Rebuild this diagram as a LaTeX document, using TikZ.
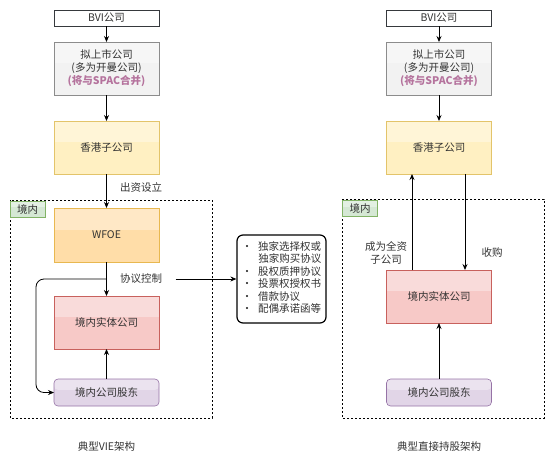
\documentclass[tikz,border=0pt]{standalone}
\usepackage{fontspec}
\setmainfont{Noto Sans CJK SC}
\usetikzlibrary{positioning,calc,arrows.meta}

\definecolor{txtgray}{HTML}{333333}
\definecolor{bviline}{HTML}{36393D}
\definecolor{grayfill}{HTML}{F2F2F2}
\definecolor{grayline}{HTML}{8C8C8C}
\definecolor{hkfill}{HTML}{FFF0C2}
\definecolor{hkline}{HTML}{E3C46A}
\definecolor{wfoefill}{HTML}{FFDDA8}
\definecolor{wfoeline}{HTML}{E8B850}
\definecolor{entfill}{HTML}{F7C9C7}
\definecolor{entline}{HTML}{C8615D}
\definecolor{holdfill}{HTML}{E1D5E7}
\definecolor{holdline}{HTML}{9673A6}
\definecolor{tabfill}{HTML}{D5E8D4}
\definecolor{tabline}{HTML}{82B366}
\definecolor{spac}{HTML}{B5739D}

\tikzset{
  box/.style={draw, minimum width=105pt, minimum height=53pt, align=center, outer sep=0pt,
    text=txtgray, font=\fontsize{10.5}{13}\selectfont, line width=0.6pt},
  glass/.style={path picture={\fill[white,opacity=.35] (path picture bounding box.north west)
    rectangle ($(path picture bounding box.north east)!0.4!(path picture bounding box.south east)$);}},
  bvibox/.style={box, minimum height=16pt, fill=white, draw=bviline},
  pubbox/.style={box, fill=grayfill, draw=grayline, glass},
  hkbox/.style={box, fill=hkfill, draw=hkline, glass},
  wfoebox/.style={box, minimum height=54pt, fill=wfoefill, draw=wfoeline, glass},
  entbox/.style={box, fill=entfill, draw=entline, glass},
  holdbox/.style={box, minimum height=27pt, rounded corners=4pt, fill=holdfill, draw=holdline, glass},
  zone/.style={draw, dash pattern=on 2pt off 2pt, line width=0.7pt},
  tabbox/.style={draw=tabline, fill=tabfill, glass, minimum width=35pt, minimum height=16pt,
    inner sep=0pt, outer sep=0pt, text=txtgray, font=\fontsize{10.5}{12}\selectfont},
  lbl/.style={text=txtgray, font=\fontsize{10.5}{12.5}\selectfont, align=center},
  listbox/.style={draw, line width=1.2pt, rounded corners=6pt, minimum width=89pt, minimum height=88pt,
    fill=white, text=txtgray, font=\fontsize{10.5}{12.2}\selectfont},
}

\begin{document}
\begin{tikzpicture}[x=1pt, y=-1pt, >={Stealth[length=6pt,width=5pt,inset=2pt]}, line width=0.8pt]

\useasboundingbox (0,0) rectangle (554,463);

% zones
\draw[zone] (10,200) rectangle (212,418);
\draw[zone] (342,199) rectangle (544,418);
\node[tabbox] (tabL) at (27.5,209) {境内};
\node[tabbox] (tabR) at (360,208.5) {境内};

% VIE
\node[bvibox] (bviL) at (106.5,18) {BVI公司};
\node[pubbox, below=16pt of bviL] (pubL) {拟上市公司\\(多为开曼公司)\\\textcolor{spac}{\bfseries(将与SPAC合并)}};
\node[hkbox, below=26pt of pubL] (hkL) {香港子公司};
\node[wfoebox, below=34pt of hkL] (wfoe) {WFOE};
\node[entbox, below=34pt of wfoe] (entL) {境内实体公司};
\node[holdbox, below=30pt of entL] (holdL) {境内公司股东};

\node[lbl] (fund) at (141,187) {出资设立};
\node[lbl] (ctrlL) at (141,279) {协议控制};
\coordinate (ctrl) at (106.5,279);

\node[listbox] (list) at (281.5,279) {\begin{tabular}{@{}l@{\hspace{6pt}}l@{}}
\textbullet & 独家选择权或\\
 & 独家购买协议\\
\textbullet & 股权质押协议\\
\textbullet & 投票权授权书\\
\textbullet & 借款协议\\
\textbullet & 配偶承诺函等
\end{tabular}};

\draw [->] (bviL) -- (pubL);
\draw [->] (pubL) -- (hkL);
\draw [->] (hkL) -- (wfoe);
\draw [->] (wfoe) -- (entL);
\draw [->] (holdL) -- (entL);
\draw [->, rounded corners=8pt] (ctrl) -- ++(-70.5,0) |- (holdL.west);
\draw [->] ([xshift=10pt]ctrlL.east) -- (list.west);

\node[lbl] (titleL) at (106.5,446) {典型VIE架构};

% direct holding
\node[bvibox] (bviR) at (439,18) {BVI公司};
\node[pubbox, below=16pt of bviR] (pubR) {拟上市公司\\(多为开曼公司)\\\textcolor{spac}{\bfseries(将与SPAC合并)}};
\node[hkbox, below=26pt of pubR] (hkR) {香港子公司};
\node[entbox, below=96pt of hkR] (entR) {境内实体公司};
\node[holdbox, below=56pt of entR] (holdR) {境内公司股东};

\node[lbl] (whole) at (386,253) {成为全资\\子公司};
\node[lbl] (buy) at (492,253) {收购};

\draw [->] (bviR) -- (pubR);
\draw [->] (pubR) -- (hkR);
\draw [->] ([xshift=-27pt]entR.north) -- ([xshift=-27pt]hkR.south);
\draw [->] ([xshift=26pt]hkR.south) -- ([xshift=26pt]entR.north);
\draw [->] (holdR) -- (entR);

\node[lbl] (titleR) at (439,446) {典型直接持股架构};

\end{tikzpicture}
\end{document}
